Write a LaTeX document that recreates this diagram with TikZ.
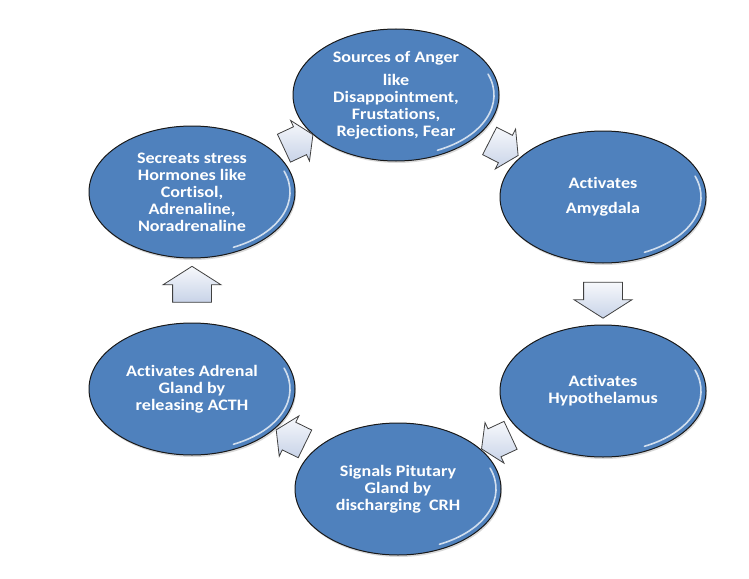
\documentclass[tikz,border=0pt]{standalone}
\usepackage{fontspec}
\setmainfont{Carlito}[FakeStretch=1.13,Ligatures=NoCommon]
\usepackage{xcolor}
\usepackage{tikz}
\usetikzlibrary{shapes,arrows,positioning,calc,shadows}

\definecolor{bubbleblue}{RGB}{79,129,189}
\definecolor{arrowfill}{RGB}{200,211,232}
\definecolor{arrowline}{RGB}{64,64,64}

\tikzset{
    bubble/.style={
        ellipse,
        draw=black!90,
        line width=1pt,
        fill=bubbleblue,
        minimum width=206pt,
        minimum height=132pt,
        inner sep=0pt,
        align=center,
        text=white,
        font=\bfseries\fontsize{16}{17}\selectfont,
        drop shadow={shadow xshift=1pt,shadow yshift=-2pt,opacity=0.3}
    },
    cyclearrow/.style={
        single arrow,
        draw=arrowline,
        line width=0.8pt,
        top color=white!85!arrowfill,
        bottom color=arrowfill,
        inner xsep=0pt,
        inner ysep=19pt,
        minimum height=36pt,
        single arrow head extend=9.5pt,
        single arrow tip angle=115
    },
    smallarrow/.style={
        cyclearrow,
        inner ysep=15pt,
        minimum height=32pt,
        single arrow head extend=7pt
    },
    glint/.style={white, line width=1.6pt, opacity=0.75, line cap=round}
}

\begin{document}
\begin{tikzpicture}[x=1pt,y=1pt]
    \fill[white] (0,0) rectangle (749,-578);
    \useasboundingbox (0,0) rectangle (749,-578);

    % the six stages
    \node[bubble] (sources) at (396,-95) {Sources of Anger\\[6pt]like\\Disappointment,\\Frustations,\\Rejections, Fear};
    \node[bubble] (amygdala) at (603,-197) {Activates\\[8pt]Amygdala};
    \node[bubble] (hypo) at (603,-391) {Activates\\Hypothelamus};
    \node[bubble] (pitutary) at (398,-489) {Signals Pitutary\\Gland by\\discharging~~CRH};
    \node[bubble] (adrenal) at (192,-389) {Activates Adrenal\\Gland by\\releasing ACTH};
    \node[bubble] (hormones) at (192,-192) {Secreats stress\\Hormones like\\Cortisol,\\Adrenaline,\\Noradrenaline};

    \foreach \n in {sources,amygdala,hypo,pitutary,adrenal,hormones}{
        \draw[glint] ([shift={(-65:98 and 61)}]\n.center) arc[start angle=-65,end angle=20,x radius=98,y radius=61];
    }

    % arrows of the cycle
    \node[smallarrow, rotate=-27] (a1) at ($(sources)!0.5!(amygdala)$) {};
    \node[cyclearrow, rotate=-90] (a2) at ($(amygdala)!0.5!(hypo)$) {};
    \node[smallarrow, rotate=-155] (a3) at ($(hypo)!0.5!(pitutary)$) {};
    \node[smallarrow, rotate=154] (a4) at ($(pitutary)!0.5!(adrenal)$) {};
    \node[cyclearrow, rotate=90] (a5) at ($(adrenal)!0.5!(hormones)$) {};
    \node[smallarrow, rotate=25] (a6) at ($(hormones)!0.5!(sources)$) {};
\end{tikzpicture}
\end{document}
